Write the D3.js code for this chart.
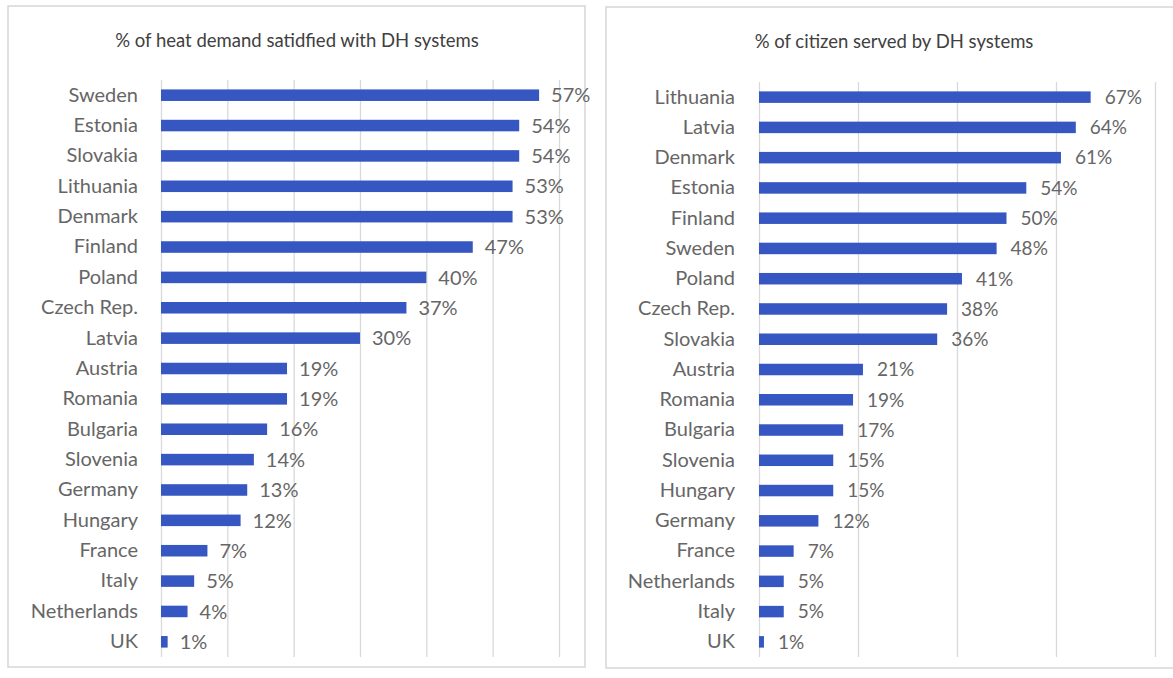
<!DOCTYPE html>
<html>
<head>
<meta charset="utf-8">
<script src="https://cdn.jsdelivr.net/npm/d3@7"></script>
<style>
  html, body { margin: 0; padding: 0; background: #ffffff; }
  svg { display: block; }
  text { font-family: Lato, "Open Sans", sans-serif; }
</style>
</head>
<body>
<svg id="chart" width="1173" height="678"></svg>
<script>
// ---- Data ----
const heatCountries = ["Sweden","Estonia","Slovakia","Lithuania","Denmark","Finland","Poland","Czech Rep.","Latvia","Austria","Romania","Bulgaria","Slovenia","Germany","Hungary","France","Italy","Netherlands","UK"];
const heatValues = [57,54,54,53,53,47,40,37,30,19,19,16,14,13,12,7,5,4,1];
const heatTicks = [0,10,20,30,40,50,60];
const heatTitle = "% of heat demand satidfied with DH systems";

const citizenCountries = ["Lithuania","Latvia","Denmark","Estonia","Finland","Sweden","Poland","Czech Rep.","Slovakia","Austria","Romania","Bulgaria","Slovenia","Hungary","Germany","France","Netherlands","Italy","UK"];
const citizenValues = [67,64,61,54,50,48,41,38,36,21,19,17,15,15,12,7,5,5,1];
const citizenTicks = [0,20,40,60,80];
const citizenTitle = "% of citizen served by DH systems";

const svg = d3.select("#chart");
const barColor = "#3656c2";

function panel(cfg) {
  const g = svg.append("g");
  // frame
  g.append("rect")
    .attr("x", cfg.frame[0]).attr("y", cfg.frame[1])
    .attr("width", cfg.frame[2]).attr("height", cfg.frame[3])
    .attr("fill", "#fff").attr("stroke", "#d6d6d6").attr("stroke-width", 1.5);

  // title
  g.append("text")
    .attr("x", cfg.titleX).attr("y", cfg.titleY)
    .attr("text-anchor", "middle")
    .attr("font-size", 18.5)
    .attr("fill", "#404040")
    .text(cfg.title);

  const x = d3.scaleLinear().domain([0, cfg.max]).range(cfg.xRange);
  const y = d3.scaleBand().domain(cfg.cats).range(cfg.yRange).paddingInner(0.62).paddingOuter(0.31);

  // gridlines via axis
  const grid = g.append("g")
    .attr("transform", `translate(0,${cfg.yRange[1]})`)
    .call(d3.axisBottom(x).tickValues(cfg.ticks).tickSize(-(cfg.yRange[1] - cfg.yRange[0])).tickFormat(""));
  grid.select(".domain").remove();
  grid.selectAll(".tick line").attr("stroke", "#d9d9d9").attr("stroke-width", 1.3);

  // bars
  g.selectAll("rect.bar").data(cfg.cats).enter().append("rect")
    .attr("class", "bar")
    .attr("x", x(0))
    .attr("y", d => y(d))
    .attr("width", (d, i) => x(cfg.vals[i]) - x(0))
    .attr("height", y.bandwidth())
    .attr("fill", barColor);

  // category axis
  const yAx = g.append("g")
    .attr("transform", `translate(${x(0)},0)`)
    .call(d3.axisLeft(y).tickSize(0).tickPadding(cfg.labelPad));
  yAx.select(".domain").remove();
  yAx.selectAll("text")
    .attr("font-family", "Lato, 'Open Sans', sans-serif")
    .attr("font-size", 20)
    .attr("fill", "#666666");

  // value labels
  g.selectAll("text.val").data(cfg.cats).enter().append("text")
    .attr("class", "val")
    .attr("x", (d, i) => x(cfg.vals[i]) + cfg.valPad)
    .attr("y", d => y(d) + y.bandwidth() / 2)
    .attr("dy", "0.36em")
    .attr("font-size", cfg.valSize)
    .attr("fill", "#666666")
    .text((d, i) => cfg.vals[i] + "%");
}

panel({
  frame: [8, 6, 577, 661],
  title: heatTitle, titleX: 297, titleY: 47,
  cats: heatCountries, vals: heatValues, ticks: heatTicks, max: 60,
  xRange: [161, 559], yRange: [80, 657],
  labelPad: 23, valPad: 12, valSize: 20
});

panel({
  frame: [606, 7, 572, 661],
  title: citizenTitle, titleX: 894, titleY: 48,
  cats: citizenCountries, vals: citizenValues, ticks: citizenTicks, max: 80,
  xRange: [759, 1155], yRange: [82, 657],
  labelPad: 24, valPad: 14, valSize: 19
});
</script>
</body>
</html>
